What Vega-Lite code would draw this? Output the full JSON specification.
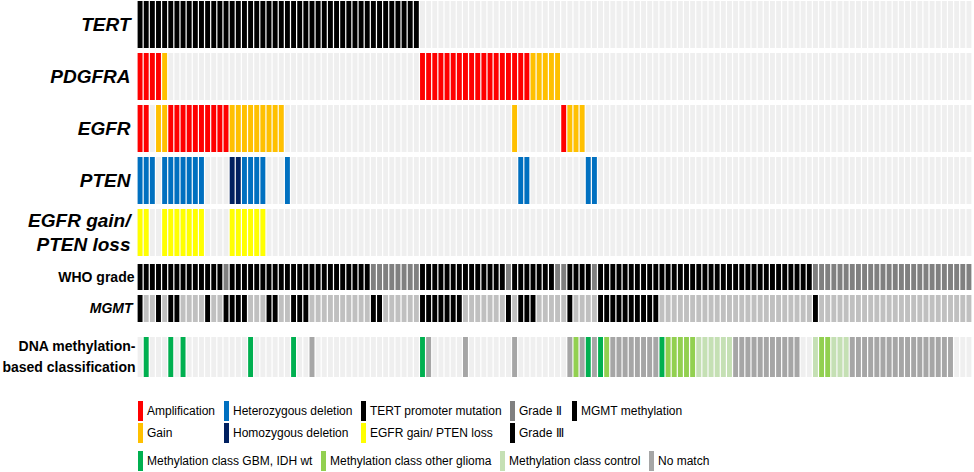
{
  "$schema": "https://vega.github.io/schema/vega-lite/v6.json",
  "background": "white",
  "padding": {"left": 1, "top": 1, "right": 0, "bottom": 0},
  "config": {
    "view": {"stroke": null},
    "legend": {
      "labelFont": "Liberation Sans",
      "labelFontSize": 12,
      "labelColor": "#000000",
      "labelLimit": 400,
      "labelOffset": -2,
      "columnPadding": 7,
      "rowPadding": 2,
      "symbolStrokeWidth": 0
    }
  },
  "datasets": {
    "samples": [
      {"id":0,"TERT":"TERT promoter mutation","PDGFRA":"Amplification","EGFR":"Amplification","PTEN":"Heterozygous deletion","EGFR_PTEN":"EGFR gain/ PTEN loss","grade":"Grade Ⅲ","MGMT":"MGMT methylation"},
      {"id":1,"TERT":"TERT promoter mutation","PDGFRA":"Amplification","EGFR":"Amplification","PTEN":"Heterozygous deletion","EGFR_PTEN":"EGFR gain/ PTEN loss","grade":"Grade Ⅲ","MGMT":"unmethylated","methylation":"Methylation class GBM, IDH wt"},
      {"id":2,"TERT":"TERT promoter mutation","PDGFRA":"Amplification","PTEN":"Heterozygous deletion","grade":"Grade Ⅲ","MGMT":"unmethylated"},
      {"id":3,"TERT":"TERT promoter mutation","PDGFRA":"Amplification","EGFR":"Gain","grade":"Grade Ⅲ","MGMT":"MGMT methylation"},
      {"id":4,"TERT":"TERT promoter mutation","PDGFRA":"Gain","EGFR":"Gain","PTEN":"Heterozygous deletion","EGFR_PTEN":"EGFR gain/ PTEN loss","grade":"Grade Ⅲ","MGMT":"unmethylated"},
      {"id":5,"TERT":"TERT promoter mutation","EGFR":"Amplification","PTEN":"Heterozygous deletion","EGFR_PTEN":"EGFR gain/ PTEN loss","grade":"Grade Ⅲ","MGMT":"MGMT methylation","methylation":"Methylation class GBM, IDH wt"},
      {"id":6,"TERT":"TERT promoter mutation","EGFR":"Amplification","PTEN":"Heterozygous deletion","EGFR_PTEN":"EGFR gain/ PTEN loss","grade":"Grade Ⅲ","MGMT":"MGMT methylation"},
      {"id":7,"TERT":"TERT promoter mutation","EGFR":"Amplification","PTEN":"Heterozygous deletion","EGFR_PTEN":"EGFR gain/ PTEN loss","grade":"Grade Ⅲ","MGMT":"unmethylated","methylation":"Methylation class GBM, IDH wt"},
      {"id":8,"TERT":"TERT promoter mutation","EGFR":"Amplification","PTEN":"Heterozygous deletion","EGFR_PTEN":"EGFR gain/ PTEN loss","grade":"Grade Ⅲ","MGMT":"unmethylated"},
      {"id":9,"TERT":"TERT promoter mutation","EGFR":"Amplification","PTEN":"Heterozygous deletion","EGFR_PTEN":"EGFR gain/ PTEN loss","grade":"Grade Ⅲ","MGMT":"unmethylated"},
      {"id":10,"TERT":"TERT promoter mutation","EGFR":"Amplification","PTEN":"Heterozygous deletion","EGFR_PTEN":"EGFR gain/ PTEN loss","grade":"Grade Ⅲ","MGMT":"unmethylated"},
      {"id":11,"TERT":"TERT promoter mutation","EGFR":"Amplification","grade":"Grade Ⅲ","MGMT":"MGMT methylation"},
      {"id":12,"TERT":"TERT promoter mutation","EGFR":"Amplification","grade":"Grade Ⅲ","MGMT":"unmethylated"},
      {"id":13,"TERT":"TERT promoter mutation","EGFR":"Amplification","grade":"Grade Ⅲ","MGMT":"unmethylated"},
      {"id":14,"TERT":"TERT promoter mutation","EGFR":"Amplification","grade":"Grade Ⅱ","MGMT":"MGMT methylation"},
      {"id":15,"TERT":"TERT promoter mutation","EGFR":"Gain","PTEN":"Homozygous deletion","EGFR_PTEN":"EGFR gain/ PTEN loss","grade":"Grade Ⅲ","MGMT":"MGMT methylation"},
      {"id":16,"TERT":"TERT promoter mutation","EGFR":"Gain","PTEN":"Homozygous deletion","EGFR_PTEN":"EGFR gain/ PTEN loss","grade":"Grade Ⅲ","MGMT":"MGMT methylation"},
      {"id":17,"TERT":"TERT promoter mutation","EGFR":"Gain","PTEN":"Heterozygous deletion","EGFR_PTEN":"EGFR gain/ PTEN loss","grade":"Grade Ⅲ","MGMT":"MGMT methylation"},
      {"id":18,"TERT":"TERT promoter mutation","EGFR":"Gain","PTEN":"Heterozygous deletion","EGFR_PTEN":"EGFR gain/ PTEN loss","grade":"Grade Ⅲ","MGMT":"unmethylated","methylation":"Methylation class GBM, IDH wt"},
      {"id":19,"TERT":"TERT promoter mutation","EGFR":"Gain","PTEN":"Heterozygous deletion","EGFR_PTEN":"EGFR gain/ PTEN loss","grade":"Grade Ⅲ","MGMT":"unmethylated"},
      {"id":20,"TERT":"TERT promoter mutation","EGFR":"Gain","PTEN":"Heterozygous deletion","EGFR_PTEN":"EGFR gain/ PTEN loss","grade":"Grade Ⅲ","MGMT":"unmethylated"},
      {"id":21,"TERT":"TERT promoter mutation","EGFR":"Gain","grade":"Grade Ⅲ","MGMT":"MGMT methylation"},
      {"id":22,"TERT":"TERT promoter mutation","EGFR":"Gain","grade":"Grade Ⅲ","MGMT":"MGMT methylation"},
      {"id":23,"TERT":"TERT promoter mutation","EGFR":"Gain","grade":"Grade Ⅲ","MGMT":"unmethylated"},
      {"id":24,"TERT":"TERT promoter mutation","PTEN":"Heterozygous deletion","grade":"Grade Ⅲ","MGMT":"unmethylated"},
      {"id":25,"TERT":"TERT promoter mutation","grade":"Grade Ⅲ","MGMT":"MGMT methylation","methylation":"Methylation class GBM, IDH wt"},
      {"id":26,"TERT":"TERT promoter mutation","grade":"Grade Ⅲ","MGMT":"MGMT methylation"},
      {"id":27,"TERT":"TERT promoter mutation","grade":"Grade Ⅲ","MGMT":"MGMT methylation"},
      {"id":28,"TERT":"TERT promoter mutation","grade":"Grade Ⅲ","MGMT":"unmethylated","methylation":"No match"},
      {"id":29,"TERT":"TERT promoter mutation","grade":"Grade Ⅲ","MGMT":"unmethylated"},
      {"id":30,"TERT":"TERT promoter mutation","grade":"Grade Ⅲ","MGMT":"unmethylated"},
      {"id":31,"TERT":"TERT promoter mutation","grade":"Grade Ⅲ","MGMT":"unmethylated"},
      {"id":32,"TERT":"TERT promoter mutation","grade":"Grade Ⅲ","MGMT":"unmethylated"},
      {"id":33,"TERT":"TERT promoter mutation","grade":"Grade Ⅲ","MGMT":"unmethylated"},
      {"id":34,"TERT":"TERT promoter mutation","grade":"Grade Ⅲ","MGMT":"unmethylated"},
      {"id":35,"TERT":"TERT promoter mutation","grade":"Grade Ⅲ","MGMT":"unmethylated"},
      {"id":36,"TERT":"TERT promoter mutation","grade":"Grade Ⅲ","MGMT":"unmethylated"},
      {"id":37,"TERT":"TERT promoter mutation","grade":"Grade Ⅲ","MGMT":"unmethylated"},
      {"id":38,"TERT":"TERT promoter mutation","grade":"Grade Ⅱ","MGMT":"MGMT methylation"},
      {"id":39,"TERT":"TERT promoter mutation","grade":"Grade Ⅱ","MGMT":"MGMT methylation"},
      {"id":40,"TERT":"TERT promoter mutation","grade":"Grade Ⅱ","MGMT":"unmethylated"},
      {"id":41,"TERT":"TERT promoter mutation","grade":"Grade Ⅱ","MGMT":"unmethylated"},
      {"id":42,"TERT":"TERT promoter mutation","grade":"Grade Ⅱ","MGMT":"unmethylated"},
      {"id":43,"TERT":"TERT promoter mutation","grade":"Grade Ⅱ","MGMT":"unmethylated"},
      {"id":44,"TERT":"TERT promoter mutation","grade":"Grade Ⅱ","MGMT":"unmethylated"},
      {"id":45,"TERT":"TERT promoter mutation","grade":"Grade Ⅱ","MGMT":"unmethylated"},
      {"id":46,"PDGFRA":"Amplification","grade":"Grade Ⅲ","MGMT":"MGMT methylation","methylation":"Methylation class GBM, IDH wt"},
      {"id":47,"PDGFRA":"Amplification","grade":"Grade Ⅲ","MGMT":"MGMT methylation","methylation":"No match"},
      {"id":48,"PDGFRA":"Amplification","grade":"Grade Ⅲ","MGMT":"MGMT methylation"},
      {"id":49,"PDGFRA":"Amplification","grade":"Grade Ⅲ","MGMT":"MGMT methylation"},
      {"id":50,"PDGFRA":"Amplification","grade":"Grade Ⅲ","MGMT":"MGMT methylation"},
      {"id":51,"PDGFRA":"Amplification","grade":"Grade Ⅲ","MGMT":"MGMT methylation"},
      {"id":52,"PDGFRA":"Amplification","grade":"Grade Ⅲ","MGMT":"MGMT methylation"},
      {"id":53,"PDGFRA":"Amplification","grade":"Grade Ⅲ","MGMT":"unmethylated","methylation":"No match"},
      {"id":54,"PDGFRA":"Amplification","grade":"Grade Ⅲ","MGMT":"unmethylated"},
      {"id":55,"PDGFRA":"Amplification","grade":"Grade Ⅲ","MGMT":"unmethylated"},
      {"id":56,"PDGFRA":"Amplification","grade":"Grade Ⅲ","MGMT":"unmethylated"},
      {"id":57,"PDGFRA":"Amplification","grade":"Grade Ⅲ","MGMT":"unmethylated"},
      {"id":58,"PDGFRA":"Amplification","grade":"Grade Ⅲ","MGMT":"unmethylated"},
      {"id":59,"PDGFRA":"Amplification","grade":"Grade Ⅲ","MGMT":"unmethylated"},
      {"id":60,"PDGFRA":"Amplification","grade":"Grade Ⅱ","MGMT":"MGMT methylation"},
      {"id":61,"PDGFRA":"Amplification","EGFR":"Gain","grade":"Grade Ⅲ","MGMT":"unmethylated","methylation":"No match"},
      {"id":62,"PDGFRA":"Amplification","PTEN":"Heterozygous deletion","grade":"Grade Ⅲ","MGMT":"MGMT methylation"},
      {"id":63,"PDGFRA":"Amplification","PTEN":"Heterozygous deletion","grade":"Grade Ⅲ","MGMT":"MGMT methylation"},
      {"id":64,"PDGFRA":"Gain","grade":"Grade Ⅲ","MGMT":"MGMT methylation"},
      {"id":65,"PDGFRA":"Gain","grade":"Grade Ⅲ","MGMT":"unmethylated"},
      {"id":66,"PDGFRA":"Gain","grade":"Grade Ⅲ","MGMT":"unmethylated"},
      {"id":67,"PDGFRA":"Gain","grade":"Grade Ⅲ","MGMT":"unmethylated"},
      {"id":68,"PDGFRA":"Gain","grade":"Grade Ⅱ","MGMT":"unmethylated"},
      {"id":69,"EGFR":"Amplification","grade":"Grade Ⅱ","MGMT":"unmethylated"},
      {"id":70,"EGFR":"Gain","grade":"Grade Ⅲ","MGMT":"MGMT methylation","methylation":"No match"},
      {"id":71,"EGFR":"Gain","grade":"Grade Ⅲ","MGMT":"unmethylated","methylation":"Methylation class other glioma"},
      {"id":72,"EGFR":"Gain","grade":"Grade Ⅲ","MGMT":"unmethylated","methylation":"No match"},
      {"id":73,"PTEN":"Heterozygous deletion","grade":"Grade Ⅲ","MGMT":"unmethylated","methylation":"Methylation class GBM, IDH wt"},
      {"id":74,"PTEN":"Heterozygous deletion","grade":"Grade Ⅱ","MGMT":"unmethylated","methylation":"No match"},
      {"id":75,"grade":"Grade Ⅲ","MGMT":"MGMT methylation","methylation":"Methylation class GBM, IDH wt"},
      {"id":76,"grade":"Grade Ⅲ","MGMT":"MGMT methylation","methylation":"Methylation class other glioma"},
      {"id":77,"grade":"Grade Ⅲ","MGMT":"MGMT methylation","methylation":"No match"},
      {"id":78,"grade":"Grade Ⅲ","MGMT":"MGMT methylation","methylation":"No match"},
      {"id":79,"grade":"Grade Ⅲ","MGMT":"MGMT methylation","methylation":"No match"},
      {"id":80,"grade":"Grade Ⅲ","MGMT":"MGMT methylation","methylation":"No match"},
      {"id":81,"grade":"Grade Ⅲ","MGMT":"MGMT methylation","methylation":"No match"},
      {"id":82,"grade":"Grade Ⅲ","MGMT":"MGMT methylation","methylation":"No match"},
      {"id":83,"grade":"Grade Ⅲ","MGMT":"MGMT methylation","methylation":"No match"},
      {"id":84,"grade":"Grade Ⅲ","MGMT":"MGMT methylation","methylation":"No match"},
      {"id":85,"grade":"Grade Ⅲ","MGMT":"unmethylated","methylation":"Methylation class GBM, IDH wt"},
      {"id":86,"grade":"Grade Ⅲ","MGMT":"unmethylated","methylation":"Methylation class other glioma"},
      {"id":87,"grade":"Grade Ⅲ","MGMT":"unmethylated","methylation":"Methylation class other glioma"},
      {"id":88,"grade":"Grade Ⅲ","MGMT":"unmethylated","methylation":"Methylation class other glioma"},
      {"id":89,"grade":"Grade Ⅲ","MGMT":"unmethylated","methylation":"Methylation class other glioma"},
      {"id":90,"grade":"Grade Ⅲ","MGMT":"unmethylated","methylation":"Methylation class other glioma"},
      {"id":91,"grade":"Grade Ⅲ","MGMT":"unmethylated","methylation":"Methylation class control"},
      {"id":92,"grade":"Grade Ⅲ","MGMT":"unmethylated","methylation":"Methylation class control"},
      {"id":93,"grade":"Grade Ⅲ","MGMT":"unmethylated","methylation":"Methylation class control"},
      {"id":94,"grade":"Grade Ⅲ","MGMT":"unmethylated","methylation":"Methylation class control"},
      {"id":95,"grade":"Grade Ⅲ","MGMT":"unmethylated","methylation":"Methylation class control"},
      {"id":96,"grade":"Grade Ⅲ","MGMT":"unmethylated","methylation":"Methylation class control"},
      {"id":97,"grade":"Grade Ⅲ","MGMT":"unmethylated","methylation":"No match"},
      {"id":98,"grade":"Grade Ⅲ","MGMT":"unmethylated","methylation":"No match"},
      {"id":99,"grade":"Grade Ⅲ","MGMT":"unmethylated","methylation":"No match"},
      {"id":100,"grade":"Grade Ⅲ","MGMT":"unmethylated","methylation":"No match"},
      {"id":101,"grade":"Grade Ⅲ","MGMT":"unmethylated","methylation":"No match"},
      {"id":102,"grade":"Grade Ⅲ","MGMT":"unmethylated","methylation":"No match"},
      {"id":103,"grade":"Grade Ⅲ","MGMT":"unmethylated","methylation":"No match"},
      {"id":104,"grade":"Grade Ⅲ","MGMT":"unmethylated","methylation":"No match"},
      {"id":105,"grade":"Grade Ⅲ","MGMT":"unmethylated","methylation":"No match"},
      {"id":106,"grade":"Grade Ⅲ","MGMT":"unmethylated","methylation":"No match"},
      {"id":107,"grade":"Grade Ⅲ","MGMT":"unmethylated","methylation":"No match"},
      {"id":108,"grade":"Grade Ⅲ","MGMT":"unmethylated"},
      {"id":109,"grade":"Grade Ⅲ","MGMT":"unmethylated"},
      {"id":110,"grade":"Grade Ⅱ","MGMT":"MGMT methylation","methylation":"Methylation class control"},
      {"id":111,"grade":"Grade Ⅱ","MGMT":"unmethylated","methylation":"Methylation class other glioma"},
      {"id":112,"grade":"Grade Ⅱ","MGMT":"unmethylated","methylation":"Methylation class other glioma"},
      {"id":113,"grade":"Grade Ⅱ","MGMT":"unmethylated","methylation":"Methylation class control"},
      {"id":114,"grade":"Grade Ⅱ","MGMT":"unmethylated","methylation":"Methylation class control"},
      {"id":115,"grade":"Grade Ⅱ","MGMT":"unmethylated","methylation":"Methylation class control"},
      {"id":116,"grade":"Grade Ⅱ","MGMT":"unmethylated","methylation":"No match"},
      {"id":117,"grade":"Grade Ⅱ","MGMT":"unmethylated","methylation":"No match"},
      {"id":118,"grade":"Grade Ⅱ","MGMT":"unmethylated","methylation":"No match"},
      {"id":119,"grade":"Grade Ⅱ","MGMT":"unmethylated","methylation":"No match"},
      {"id":120,"grade":"Grade Ⅱ","MGMT":"unmethylated","methylation":"No match"},
      {"id":121,"grade":"Grade Ⅱ","MGMT":"unmethylated","methylation":"No match"},
      {"id":122,"grade":"Grade Ⅱ","MGMT":"unmethylated","methylation":"No match"},
      {"id":123,"grade":"Grade Ⅱ","MGMT":"unmethylated","methylation":"No match"},
      {"id":124,"grade":"Grade Ⅱ","MGMT":"unmethylated","methylation":"No match"},
      {"id":125,"grade":"Grade Ⅱ","MGMT":"unmethylated","methylation":"No match"},
      {"id":126,"grade":"Grade Ⅱ","MGMT":"unmethylated","methylation":"No match"},
      {"id":127,"grade":"Grade Ⅱ","MGMT":"unmethylated","methylation":"No match"},
      {"id":128,"grade":"Grade Ⅱ","MGMT":"unmethylated","methylation":"No match"},
      {"id":129,"grade":"Grade Ⅱ","MGMT":"unmethylated","methylation":"No match"},
      {"id":130,"grade":"Grade Ⅱ","MGMT":"unmethylated","methylation":"No match"},
      {"id":131,"grade":"Grade Ⅱ","MGMT":"unmethylated","methylation":"No match"},
      {"id":132,"grade":"Grade Ⅱ","MGMT":"unmethylated","methylation":"No match"},
      {"id":133,"grade":"Grade Ⅱ","MGMT":"unmethylated"},
      {"id":134,"grade":"Grade Ⅱ","MGMT":"unmethylated"},
      {"id":135,"grade":"Grade Ⅱ","MGMT":"unmethylated"}
    ]
  },
  "data": {"name": "samples"},
  "spacing": 15,
  "resolve": {"scale": {"y": "independent"}},
  "vconcat": [
    {
      "spacing": 8,
      "resolve": {"scale": {"y": "independent"}},
      "vconcat": [
        {
          "spacing": 5,
          "resolve": {"scale": {"y": "independent"}},
          "vconcat": [
            {
              "width": 835, "height": 47,
              "encoding": {
                "x": {"field": "id", "type": "ordinal", "axis": null, "scale": {"paddingInner": 0.2, "paddingOuter": 0.1}},
                "y": {"datum": "TERT", "type": "nominal", "scale": {"paddingInner": 0, "paddingOuter": 0},
                      "axis": {"title": "TERT", "labels": false, "ticks": false, "domain": false, "titleAngle": 0, "titleAlign": "right", "titleBaseline": "middle", "titleX": -7, "titleY": 23.5, "titleFont": "Liberation Sans", "titleFontSize": 19, "titleFontWeight": "bold", "titleFontStyle": "italic", "titleColor": "#000000"}}
              },
              "layer": [
                {"mark": {"type": "rect", "color": "#efefef"}},
                {"transform": [{"filter": "isValid(datum.TERT)"}],
                 "mark": "rect",
                 "encoding": {"color": {"field": "TERT", "type": "nominal",
                   "scale": {"domain": ["Amplification","Gain","Heterozygous deletion","Homozygous deletion","TERT promoter mutation","EGFR gain/ PTEN loss","Grade Ⅱ","Grade Ⅲ","MGMT methylation","unmethylated"],
                             "range": ["#ff0000","#ffc000","#0070c0","#002060","#000000","#ffff00","#808080","#000000","#000000","#c0c0c0"]},
                   "legend": {"title": null, "orient": "none", "legendX": 0, "legendY": 404, "columns": 5, "direction": "vertical",
                              "symbolType": "M-1,-2H0V2H-1Z", "symbolSize": 100,
                              "values": ["Amplification","Gain","Heterozygous deletion","Homozygous deletion","TERT promoter mutation","EGFR gain/ PTEN loss","Grade Ⅱ","Grade Ⅲ","MGMT methylation"]}}}}
              ]
            },
            {
              "width": 835, "height": 47,
              "encoding": {
                "x": {"field": "id", "type": "ordinal", "axis": null, "scale": {"paddingInner": 0.2, "paddingOuter": 0.1}},
                "y": {"datum": "PDGFRA", "type": "nominal", "scale": {"paddingInner": 0, "paddingOuter": 0},
                      "axis": {"title": "PDGFRA", "labels": false, "ticks": false, "domain": false, "titleAngle": 0, "titleAlign": "right", "titleBaseline": "middle", "titleX": -7, "titleY": 23.5, "titleFont": "Liberation Sans", "titleFontSize": 19, "titleFontWeight": "bold", "titleFontStyle": "italic", "titleColor": "#000000"}}
              },
              "layer": [
                {"mark": {"type": "rect", "color": "#efefef"}},
                {"transform": [{"filter": "isValid(datum.PDGFRA)"}],
                 "mark": "rect",
                 "encoding": {"color": {"field": "PDGFRA", "type": "nominal",
                   "scale": {"domain": ["Amplification","Gain","Heterozygous deletion","Homozygous deletion","TERT promoter mutation","EGFR gain/ PTEN loss","Grade Ⅱ","Grade Ⅲ","MGMT methylation","unmethylated"],
                             "range": ["#ff0000","#ffc000","#0070c0","#002060","#000000","#ffff00","#808080","#000000","#000000","#c0c0c0"]}}}}
              ]
            },
            {
              "width": 835, "height": 47,
              "encoding": {
                "x": {"field": "id", "type": "ordinal", "axis": null, "scale": {"paddingInner": 0.2, "paddingOuter": 0.1}},
                "y": {"datum": "EGFR", "type": "nominal", "scale": {"paddingInner": 0, "paddingOuter": 0},
                      "axis": {"title": "EGFR", "labels": false, "ticks": false, "domain": false, "titleAngle": 0, "titleAlign": "right", "titleBaseline": "middle", "titleX": -7, "titleY": 23.5, "titleFont": "Liberation Sans", "titleFontSize": 19, "titleFontWeight": "bold", "titleFontStyle": "italic", "titleColor": "#000000"}}
              },
              "layer": [
                {"mark": {"type": "rect", "color": "#efefef"}},
                {"transform": [{"filter": "isValid(datum.EGFR)"}],
                 "mark": "rect",
                 "encoding": {"color": {"field": "EGFR", "type": "nominal",
                   "scale": {"domain": ["Amplification","Gain","Heterozygous deletion","Homozygous deletion","TERT promoter mutation","EGFR gain/ PTEN loss","Grade Ⅱ","Grade Ⅲ","MGMT methylation","unmethylated"],
                             "range": ["#ff0000","#ffc000","#0070c0","#002060","#000000","#ffff00","#808080","#000000","#000000","#c0c0c0"]}}}}
              ]
            },
            {
              "width": 835, "height": 47,
              "encoding": {
                "x": {"field": "id", "type": "ordinal", "axis": null, "scale": {"paddingInner": 0.2, "paddingOuter": 0.1}},
                "y": {"datum": "PTEN", "type": "nominal", "scale": {"paddingInner": 0, "paddingOuter": 0},
                      "axis": {"title": "PTEN", "labels": false, "ticks": false, "domain": false, "titleAngle": 0, "titleAlign": "right", "titleBaseline": "middle", "titleX": -7, "titleY": 23.5, "titleFont": "Liberation Sans", "titleFontSize": 19, "titleFontWeight": "bold", "titleFontStyle": "italic", "titleColor": "#000000"}}
              },
              "layer": [
                {"mark": {"type": "rect", "color": "#efefef"}},
                {"transform": [{"filter": "isValid(datum.PTEN)"}],
                 "mark": "rect",
                 "encoding": {"color": {"field": "PTEN", "type": "nominal",
                   "scale": {"domain": ["Amplification","Gain","Heterozygous deletion","Homozygous deletion","TERT promoter mutation","EGFR gain/ PTEN loss","Grade Ⅱ","Grade Ⅲ","MGMT methylation","unmethylated"],
                             "range": ["#ff0000","#ffc000","#0070c0","#002060","#000000","#ffff00","#808080","#000000","#000000","#c0c0c0"]}}}}
              ]
            },
            {
              "width": 835, "height": 47,
              "encoding": {
                "x": {"field": "id", "type": "ordinal", "axis": null, "scale": {"paddingInner": 0.2, "paddingOuter": 0.1}},
                "y": {"datum": "EGFR_PTEN", "type": "nominal", "scale": {"paddingInner": 0, "paddingOuter": 0},
                      "axis": {"title": ["EGFR gain/", "PTEN loss"], "labels": false, "ticks": false, "domain": false, "titleAngle": 0, "titleAlign": "right", "titleBaseline": "middle", "titleX": -7, "titleY": 11.5, "titleLineHeight": 24, "titleFont": "Liberation Sans", "titleFontSize": 19, "titleFontWeight": "bold", "titleFontStyle": "italic", "titleColor": "#000000"}}
              },
              "layer": [
                {"mark": {"type": "rect", "color": "#efefef"}},
                {"transform": [{"filter": "isValid(datum.EGFR_PTEN)"}],
                 "mark": "rect",
                 "encoding": {"color": {"field": "EGFR_PTEN", "type": "nominal",
                   "scale": {"domain": ["Amplification","Gain","Heterozygous deletion","Homozygous deletion","TERT promoter mutation","EGFR gain/ PTEN loss","Grade Ⅱ","Grade Ⅲ","MGMT methylation","unmethylated"],
                             "range": ["#ff0000","#ffc000","#0070c0","#002060","#000000","#ffff00","#808080","#000000","#000000","#c0c0c0"]}}}}
              ]
            }
          ]
        },
        {
          "spacing": 5,
          "resolve": {"scale": {"y": "independent"}},
          "vconcat": [
            {
              "width": 835, "height": 26,
              "mark": "rect",
              "encoding": {
                "x": {"field": "id", "type": "ordinal", "axis": null, "scale": {"paddingInner": 0.2, "paddingOuter": 0.1}},
                "y": {"datum": "WHO grade", "type": "nominal", "scale": {"paddingInner": 0, "paddingOuter": 0},
                      "axis": {"title": "WHO grade", "labels": false, "ticks": false, "domain": false, "titleAngle": 0, "titleAlign": "right", "titleBaseline": "middle", "titleX": -3, "titleY": 13, "titleFont": "Liberation Sans", "titleFontSize": 14, "titleFontWeight": "bold", "titleColor": "#000000"}},
                "color": {"field": "grade", "type": "nominal",
                   "scale": {"domain": ["Amplification","Gain","Heterozygous deletion","Homozygous deletion","TERT promoter mutation","EGFR gain/ PTEN loss","Grade Ⅱ","Grade Ⅲ","MGMT methylation","unmethylated"],
                             "range": ["#ff0000","#ffc000","#0070c0","#002060","#000000","#ffff00","#808080","#000000","#000000","#c0c0c0"]}}
              }
            },
            {
              "width": 835, "height": 27,
              "mark": "rect",
              "encoding": {
                "x": {"field": "id", "type": "ordinal", "axis": null, "scale": {"paddingInner": 0.2, "paddingOuter": 0.1}},
                "y": {"datum": "MGMT", "type": "nominal", "scale": {"paddingInner": 0, "paddingOuter": 0},
                      "axis": {"title": "MGMT", "labels": false, "ticks": false, "domain": false, "titleAngle": 0, "titleAlign": "right", "titleBaseline": "middle", "titleX": -5, "titleY": 13.5, "titleFont": "Liberation Sans", "titleFontSize": 14, "titleFontWeight": "bold", "titleFontStyle": "italic", "titleColor": "#000000"}},
                "color": {"field": "MGMT", "type": "nominal",
                   "scale": {"domain": ["Amplification","Gain","Heterozygous deletion","Homozygous deletion","TERT promoter mutation","EGFR gain/ PTEN loss","Grade Ⅱ","Grade Ⅲ","MGMT methylation","unmethylated"],
                             "range": ["#ff0000","#ffc000","#0070c0","#002060","#000000","#ffff00","#808080","#000000","#000000","#c0c0c0"]}}
              }
            }
          ]
        }
      ]
    },
    {
      "width": 835, "height": 40,
      "encoding": {
        "x": {"field": "id", "type": "ordinal", "axis": null, "scale": {"paddingInner": 0.2, "paddingOuter": 0.1}},
        "y": {"datum": "methylation", "type": "nominal", "scale": {"paddingInner": 0, "paddingOuter": 0},
              "axis": {"title": ["DNA methylation-", "based classification"], "labels": false, "ticks": false, "domain": false, "titleAngle": 0, "titleAlign": "right", "titleBaseline": "middle", "titleX": -2, "titleY": 9.5, "titleLineHeight": 21, "titleFont": "Liberation Sans", "titleFontSize": 14, "titleFontWeight": "bold", "titleColor": "#000000"}}
      },
      "layer": [
        {"mark": {"type": "rect", "fill": "#efefef"}},
        {"transform": [{"filter": "isValid(datum.methylation)"}],
         "mark": "rect",
         "encoding": {"fill": {"field": "methylation", "type": "nominal",
           "scale": {"domain": ["Methylation class GBM, IDH wt","Methylation class other glioma","Methylation class control","No match"],
                     "range": ["#00b050","#92d050","#c5e0b4","#a6a6a6"]},
           "legend": {"title": null, "orient": "none", "legendX": 0, "legendY": 454, "columns": 4, "direction": "horizontal",
                      "symbolType": "M-1,-2H0V2H-1Z", "symbolSize": 100}}}}
      ]
    }
  ]
}
